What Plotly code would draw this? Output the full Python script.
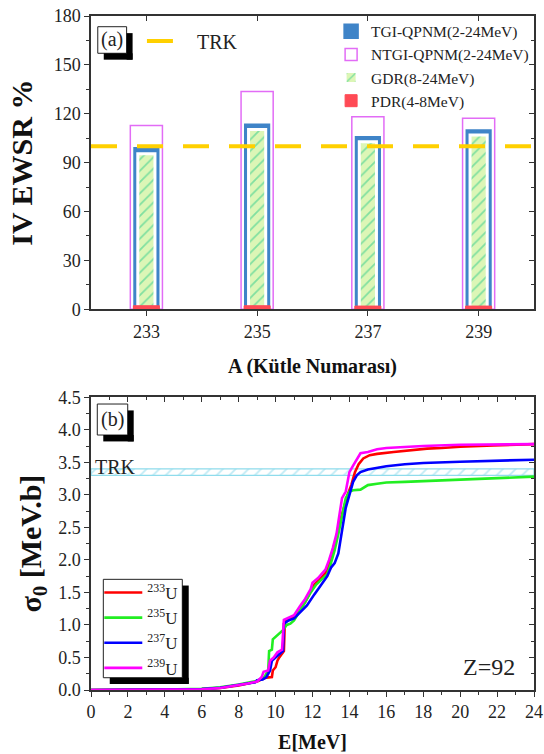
import plotly.graph_objects as go

# ---------------- data: panel (a) ----------------
mass_numbers = [233, 235, 237, 239]
tgi_qpnm = [98.5, 113.0, 105.3, 109.5]     # TGI-QPNM (2-24 MeV)
ntgi_qpnm = [112.8, 133.6, 118.1, 117.2]   # NTGI-QPNM (2-24 MeV)
gdr = [95.5, 110.3, 102.8, 107.0]          # GDR (8-24 MeV)
pdr = [2.2, 2.2, 2.0, 2.0]                 # PDR (4-8 MeV)
trk_percent = 100
a_range = [232, 240]

# ---------------- data: panel (b) ----------------
e_233 = [0, 2, 4, 5, 6, 7, 7.5, 8, 8.5, 9.0, 9.3, 9.5, 9.8, 9.85, 10.0, 10.1, 10.2, 10.35, 10.45, 10.5,
         10.8, 11.0, 11.3, 11.6, 11.9, 12.1, 12.4, 12.7, 12.9, 13.1, 13.3, 13.5, 13.7, 13.9, 14.1, 14.3,
         14.5, 14.75, 15.1, 15.5, 16.4, 17, 18.2, 19, 20, 21.8, 23, 24]
s_233 = [0, 0.002, 0.005, 0.008, 0.015, 0.03, 0.045, 0.07, 0.1, 0.13, 0.17, 0.19, 0.2, 0.3, 0.35, 0.45,
         0.5, 0.55, 0.6, 1.05, 1.1, 1.12, 1.22, 1.35, 1.5, 1.62, 1.7, 1.8, 1.95, 2.15, 2.35, 2.6, 2.8,
         3.0, 3.15, 3.35, 3.47, 3.56, 3.61, 3.63, 3.66, 3.68, 3.71, 3.72, 3.74, 3.76, 3.77, 3.78]

e_235 = [0, 2, 4, 6, 7, 8, 8.5, 9.0, 9.4, 9.6, 9.65, 9.8, 9.85, 10.0, 10.2, 10.4, 10.6, 10.8, 11.0,
         11.3, 11.6, 11.9, 12.2, 12.5, 12.8, 13.0, 13.2, 13.4, 13.6, 13.8, 14.0, 14.2, 14.6, 14.8, 15.0,
         15.5, 16, 17, 18, 20, 22, 24]
s_235 = [0, 0.002, 0.006, 0.018, 0.04, 0.085, 0.11, 0.14, 0.2, 0.3, 0.6, 0.62, 0.78, 0.82, 0.88, 0.92,
         1.0, 1.02, 1.07, 1.2, 1.35, 1.5, 1.62, 1.7, 1.78, 1.95, 2.15, 2.4, 2.7, 2.95, 3.05, 3.07, 3.08,
         3.12, 3.15, 3.17, 3.19, 3.2, 3.21, 3.23, 3.25, 3.28]

e_237 = [0, 2, 4, 6, 7, 8, 8.5, 8.9, 9.0, 9.3, 9.5, 9.7, 9.8, 10.0, 10.2, 10.4, 10.45, 10.7, 11.0,
         11.3, 11.7, 12.1, 12.5, 12.8, 13.0, 13.2, 13.4, 13.6, 13.8, 14.0, 14.2, 14.4, 14.6, 15.0, 15.5,
         16, 17, 18, 20, 22, 24]
s_237 = [0, 0.002, 0.005, 0.015, 0.035, 0.075, 0.1, 0.12, 0.15, 0.16, 0.2, 0.3, 0.45, 0.5, 0.55, 0.6,
         1.02, 1.07, 1.1, 1.18, 1.3, 1.47, 1.63, 1.75, 1.88, 1.95, 2.1, 2.45, 2.8, 3.0, 3.2, 3.3, 3.35,
         3.39, 3.42, 3.44, 3.47, 3.49, 3.51, 3.53, 3.54]

e_239 = [0, 2, 4, 6, 7, 8, 8.5, 9.0, 9.25, 9.35, 9.6, 9.7, 9.9, 10.1, 10.35, 10.45, 10.8, 11.0, 11.3,
         11.6, 11.9, 12.0, 12.3, 12.7, 12.9, 13.1, 13.3, 13.45, 13.6, 13.8, 14.0, 14.2, 14.4, 14.6, 15.0,
         15.5, 16, 17, 18, 20, 22, 24]
s_239 = [0, 0.002, 0.005, 0.012, 0.03, 0.07, 0.1, 0.13, 0.2, 0.28, 0.3, 0.45, 0.5, 0.58, 0.62, 1.08,
         1.12, 1.15, 1.28, 1.4, 1.55, 1.65, 1.72, 1.85, 2.0, 2.18, 2.4, 2.7, 2.95, 3.05, 3.35, 3.45, 3.55,
         3.64, 3.66, 3.7, 3.72, 3.74, 3.75, 3.77, 3.78, 3.78]

trk_band = [3.3, 3.4]
e_range = [0, 24]
sigma_range = [0, 4.5]
ewsr_range = [0, 180]

FONT = "Liberation Serif"
BLUE = "#3f84c8"
PINK = "#e26cf6"
RED = "#ff4a55"
GOLD = "#ffd000"
AXC = "#333333"
NB = "\u00a0"

fig = go.Figure()

# ---- panel (a) bars ----
fig.add_trace(go.Bar(x=mass_numbers, y=ntgi_qpnm, width=0.58, name="NTGI-QPNM(2-24MeV)",
                     marker=dict(color="rgba(255,255,255,0)", line=dict(color=PINK, width=1.5)),
                     legendrank=2, xaxis="x", yaxis="y"))
fig.add_trace(go.Bar(x=mass_numbers, y=tgi_qpnm, width=0.41, name="TGI-QPNM(2-24MeV)",
                     marker=dict(color=BLUE, line=dict(color=BLUE, width=3.5)),
                     legendrank=1, xaxis="x", yaxis="y"))
fig.add_trace(go.Bar(x=mass_numbers, y=gdr, width=0.31, name="GDR(8-24MeV)",
                     marker=dict(color="#dcf6b6",
                                 pattern=dict(shape="/", bgcolor="#dcf6b6", fgcolor="#22c98a",
                                              size=8, solidity=0.22, fillmode="overlay"),
                                 line=dict(color="white", width=3)),
                     legendrank=3, xaxis="x", yaxis="y"))
fig.add_trace(go.Bar(x=mass_numbers, y=pdr, width=0.47, name="PDR(4-8MeV)",
                     marker=dict(color=RED, line=dict(color=RED, width=1)),
                     legendrank=4, xaxis="x", yaxis="y"))
fig.add_trace(go.Scatter(x=a_range, y=[trk_percent, trk_percent], mode="lines",
                         name=NB * 3 + "TRK", legend="legend2",
                         line=dict(color=GOLD, width=4, dash="26px,20px"),
                         xaxis="x", yaxis="y"))

# ---- panel (b) ----
fig.add_trace(go.Scatter(x=[e_range[0], e_range[1], e_range[1], e_range[0], e_range[0]],
                         y=[trk_band[0], trk_band[0], trk_band[1], trk_band[1], trk_band[0]],
                         mode="lines", fill="toself", fillcolor="white",
                         fillpattern=dict(shape="/", fgcolor="#7fd6ea", bgcolor="white", size=9,
                                          solidity=0.2),
                         line=dict(color="#8fdcec", width=1.2), showlegend=False,
                         hoverinfo="skip", xaxis="x2", yaxis="y2"))
curves = [
    (e_233, s_233, "<sup>233</sup>U", "#ff0000"),
    (e_235, s_235, "<sup>235</sup>U", "#22ee22"),
    (e_237, s_237, "<sup>237</sup>U", "#0000ff"),
    (e_239, s_239, "<sup>239</sup>U", "#ff00ff"),
]
for ex, sy, nm, col in curves:
    fig.add_trace(go.Scatter(x=ex, y=sy, mode="lines", name=nm, legend="legend3",
                             line=dict(color=col, width=2.6), xaxis="x2", yaxis="y2"))

# empty traces that carry the top/right mirror axes (inward ticks)
fig.add_trace(go.Scatter(x=[], y=[], xaxis="x3", yaxis="y3", showlegend=False, hoverinfo="skip"))
fig.add_trace(go.Scatter(x=[], y=[], xaxis="x4", yaxis="y4", showlegend=False, hoverinfo="skip"))

tickfont = dict(family=FONT, size=18, color="#222222")
base = dict(showline=True, linecolor=AXC, linewidth=1.5, ticklen=5, tickwidth=1.2, tickcolor=AXC,
            showgrid=False, zeroline=False, automargin=False, tickfont=tickfont)
minor_out = lambda d: dict(dtick=d, ticklen=3, tickcolor=AXC, ticks="outside")
minor_in = lambda d: dict(dtick=d, ticklen=3, tickcolor=AXC, ticks="inside")

DOM_A = [0.5648, 1.0]
DOM_B = [0.0, 0.4343]

fig.update_layout(
    width=544, height=754,
    margin=dict(l=91, r=10, t=16, b=64),
    paper_bgcolor="white", plot_bgcolor="white",
    barmode="overlay",
    font=dict(family=FONT, color="#111111"),
    xaxis=dict(**base, ticks="outside", range=a_range, tickvals=mass_numbers, anchor="y",
               title=dict(text="A (Kütle Numarası)", font=dict(family=FONT, size=20, weight="bold"),
                          standoff=18)),
    yaxis=dict(**base, ticks="outside", range=ewsr_range, dtick=30, domain=DOM_A, anchor="x",
               minor=minor_out(15),
               title=dict(text=NB * 2 + "IV EWSR %", font=dict(family=FONT, size=30, weight="bold"),
                          standoff=12)),
    xaxis3=dict(**base, ticks="inside", range=a_range, tickvals=mass_numbers, anchor="y",
                overlaying="x", side="top", showticklabels=False),
    yaxis3=dict(**base, ticks="inside", range=ewsr_range, dtick=30, anchor="x", overlaying="y",
                side="right", showticklabels=False, minor=minor_in(15)),
    xaxis2=dict(**base, ticks="outside", range=e_range, dtick=2, anchor="y2", minor=minor_out(1),
                title=dict(text="E[MeV]", font=dict(family=FONT, size=20, weight="bold"),
                           standoff=14)),
    yaxis2=dict(**base, ticks="outside", range=sigma_range, dtick=0.5, tickformat=".1f",
                domain=DOM_B, anchor="x2", minor=minor_out(0.25),
                title=dict(text=NB * 4 + "σ<sub>0</sub> [MeV.b]",
                           font=dict(family=FONT, size=30, weight="bold"), standoff=8)),
    xaxis4=dict(**base, ticks="inside", range=e_range, dtick=2, anchor="y2", overlaying="x2",
                side="top", showticklabels=False, minor=minor_in(1)),
    yaxis4=dict(**base, ticks="inside", range=sigma_range, dtick=0.5, anchor="x2", overlaying="y2",
                side="right", showticklabels=False, minor=minor_in(0.25)),
    legend=dict(x=0.542, y=1.002, xanchor="left", yanchor="top", bgcolor="rgba(255,255,255,0)",
                borderwidth=0, font=dict(family=FONT, size=15.5, color="#222222"),
                tracegroupgap=0, itemclick=False),
    legend2=dict(x=0.115, y=0.992, xanchor="left", yanchor="top", bgcolor="rgba(255,255,255,0)",
                 borderwidth=0, font=dict(family=FONT, size=20, color="#222222")),
    legend3=dict(x=0.0187, y=0.1706, xanchor="left", yanchor="top", bgcolor="rgba(255,255,255,0)",
                 borderwidth=0, itemwidth=38,
                 font=dict(family=FONT, size=17, color="#222222")),
)

# boxes with drop shadows (shadow = right strip + bottom strip): (a), (b), panel (b) legend frame
def boxed(x0, x1, y0, y1, dx=0.0135, dy=0.0095):
    frame = dict(type="rect", xref="paper", yref="paper", layer="above")
    fig.add_shape(**frame, x0=x0, x1=x1, y0=y0, y1=y1,
                  fillcolor="white", line=dict(color="#222222", width=1))
    fig.add_shape(**frame, x0=x1, x1=x1 + dx, y0=y0 - dy, y1=y1 - dy,
                  fillcolor="black", line=dict(width=0))
    fig.add_shape(**frame, x0=x0 + dx, x1=x1 + dx, y0=y0 - dy, y1=y0,
                  fillcolor="black", line=dict(width=0))

boxed(0.0153, 0.0804, 0.9447, 0.9841)
boxed(0.0142, 0.0829, 0.3783, 0.4243)
boxed(0.0278, 0.2061, 0.0182, 0.1642, dx=0.0145, dy=0.0092)

txt = dict(xref="paper", yref="paper", showarrow=False, xanchor="center", yanchor="middle")
fig.add_annotation(text="(a)", x=0.0479, y=0.9644, font=dict(family=FONT, size=20, color="#222222"), **txt)
fig.add_annotation(text="(b)", x=0.0485, y=0.4013, font=dict(family=FONT, size=20, color="#222222"), **txt)
fig.add_annotation(text="TRK", x=0.055, y=0.3309, font=dict(family=FONT, size=20, color="#222222"), **txt)
fig.add_annotation(text="Z=92", x=0.898, y=0.0341, font=dict(family=FONT, size=24, color="#222222"), **txt)

fig.write_html("out.html")
